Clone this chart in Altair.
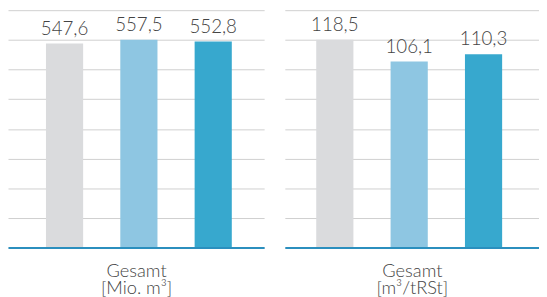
import altair as alt
import pandas as pd

periods = ["Jahr 1", "Jahr 2", "Jahr 3"]
colors = ["#dadbdd", "#8ec6e2", "#37a8ce"]
volume_values = [547.6, 557.5, 552.8]
specific_values = [118.5, 106.1, 110.3]
volume_title = ["Gesamt", "[Mio. m³]"]
specific_title = ["Gesamt", "[m³/tRSt]"]

FONT = "Lato"
TEXT_COLOR = "#444444"


def panel(values, title, width, align, pad_outer):
    df = pd.DataFrame({
        "period": periods,
        "value": values,
        "label": [f"{v:.1f}".replace(".", ",") for v in values],
    })
    top = max(values) * 8 / 7
    ticks = [top * i / 8 for i in range(9)]
    x = alt.X(
        "period:N", sort=periods,
        scale=alt.Scale(paddingInner=0.5, paddingOuter=pad_outer, align=align),
        axis=alt.Axis(
            title=title, labels=False, ticks=False, domain=True,
            domainColor="#2b8fbe", domainWidth=2, zindex=1,
            titleFont=FONT, titleFontSize=18.5, titleColor=TEXT_COLOR,
            titleFontWeight=300, titlePadding=14, titleLineHeight=18,
        ),
    )
    y = alt.Y(
        "value:Q",
        scale=alt.Scale(domain=[0, top], nice=False, zero=True),
        axis=alt.Axis(
            title=None, labels=False, ticks=False, domain=False, grid=True,
            gridColor="#cfcfcf", gridWidth=1, values=ticks,
        ),
    )
    color = alt.Color("period:N", scale=alt.Scale(domain=periods, range=colors), legend=None)
    bars = alt.Chart(df).mark_bar().encode(x=x, y=y, color=color)
    text = alt.Chart(df).mark_text(
        baseline="bottom", dy=-5, font=FONT, fontSize=19, fontWeight=300, color=TEXT_COLOR
    ).encode(x=x, y=y, text="label:N")
    return alt.layer(bars, text).properties(width=width, height=241)


left = panel(volume_values, volume_title, 260, 0.54, 0.473)
right = panel(specific_values, specific_title, 258, 0.46, 0.459)

chart = alt.hconcat(left, right, spacing=21).properties(
    padding=0
).configure_view(stroke=None).resolve_scale(y="independent", color="shared")

chart.save("out.html", embed_options={"renderer": "svg", "actions": False})
